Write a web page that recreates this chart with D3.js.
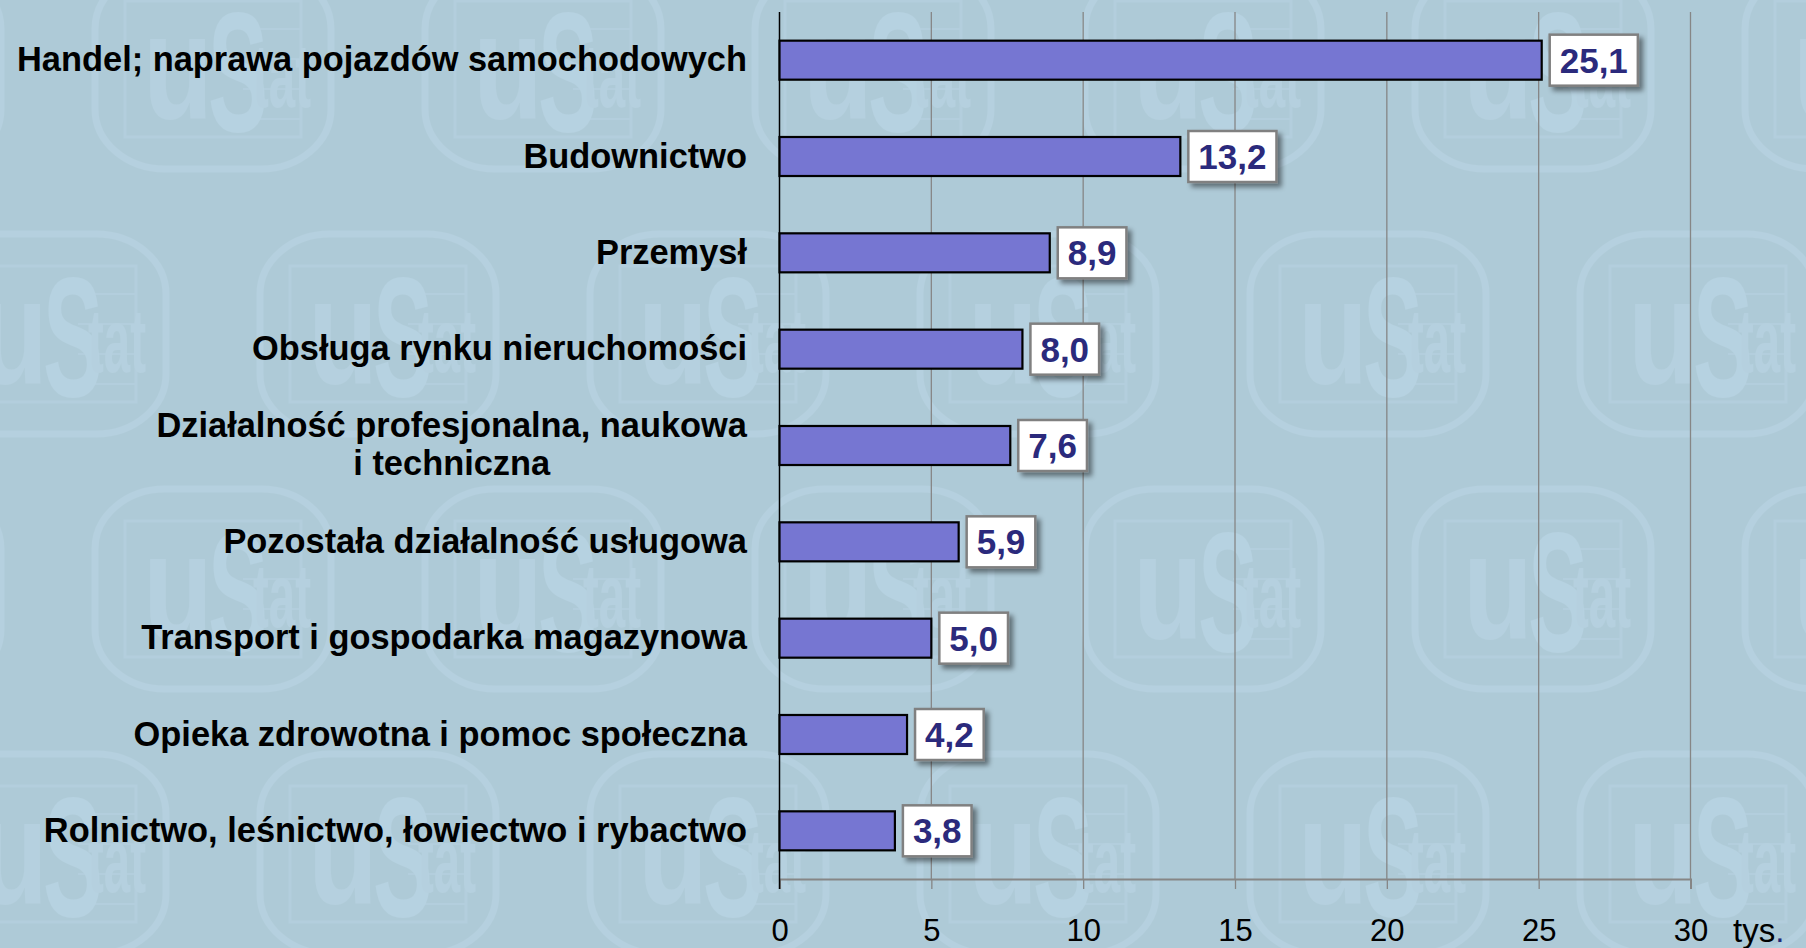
<!DOCTYPE html>
<html>
<head>
<meta charset="utf-8">
<title>Podmioty według sekcji</title>
<script src="https://cdn.jsdelivr.net/npm/d3@7"></script>
<style>
  body { margin: 0; background: #aecad7; }
  svg { display: block; }
  text { font-family: "Liberation Sans", Arial, sans-serif; }
</style>
</head>
<body>
<div id="chart"></div>
<script>
var categories = [
  "Handel; naprawa pojazdów samochodowych",
  "Budownictwo",
  "Przemysł",
  "Obsługa rynku nieruchomości",
  "Działalność profesjonalna, naukowa\ni techniczna",
  "Pozostała działalność usługowa",
  "Transport i gospodarka magazynowa",
  "Opieka zdrowotna i pomoc społeczna",
  "Rolnictwo, leśnictwo, łowiectwo i rybactwo"
];
var values = [25.1, 13.2, 8.9, 8.0, 7.6, 5.9, 5.0, 4.2, 3.8];
var tickValues = [0, 5, 10, 15, 20, 25, 30];
var unitLabel = "tys";

var W = 1806, H = 948;
var plotLeft = 779.5, plotRight = 1690.5, plotTop = 12, plotBottom = 879;

var pl = d3.formatLocale({ decimal: ",", thousands: " ", grouping: [3], currency: ["", " zł"] });
var fmt = pl.format(".1f");

var svg = d3.select("#chart").append("svg")
    .attr("width", W)
    .attr("height", H);

var defs = svg.append("defs");

// drop shadow for value boxes
var shadow = defs.append("filter").attr("id", "shadow")
    .attr("x", "-20%").attr("y", "-20%").attr("width", "150%").attr("height", "160%");
shadow.append("feDropShadow")
    .attr("dx", 4).attr("dy", 4).attr("stdDeviation", 2.5)
    .attr("flood-color", "#000").attr("flood-opacity", 0.45);

// faint "uStat" watermark tile
var pat = defs.append("pattern").attr("id", "wm")
    .attr("patternUnits", "userSpaceOnUse")
    .attr("x", 48).attr("y", 0)
    .attr("width", 330).attr("height", 520);

function logo(g, cx, cy) {
  var l = g.append("g").attr("transform", "translate(" + cx + "," + cy + ")");
  l.append("rect").attr("x", -118).attr("y", -100).attr("width", 236).attr("height", 200)
      .attr("rx", 70).attr("ry", 60)
      .attr("fill", "none").attr("stroke", "#bcd6e6").attr("stroke-width", 7);
  l.append("rect").attr("x", -88).attr("y", -68).attr("width", 176).attr("height", 136)
      .attr("fill", "none").attr("stroke", "#b8d2e2").attr("stroke-width", 3);
  [-40, -10, 20, 50].forEach(function(yy) {
    l.append("line").attr("x1", 30).attr("x2", 88).attr("y1", yy).attr("y2", yy)
        .attr("stroke", "#b8d2e2").attr("stroke-width", 2);
  });
  l.append("text").attr("x", -70).attr("y", 50)
      .attr("font-size", 150).attr("font-weight", "bold")
      .attr("textLength", 70).attr("lengthAdjust", "spacingAndGlyphs")
      .attr("fill", "#bcd6e6").text("u");
  l.append("text").attr("x", -5).attr("y", 62)
      .attr("font-size", 170).attr("font-weight", "bold")
      .attr("textLength", 60).attr("lengthAdjust", "spacingAndGlyphs")
      .attr("fill", "#bed9ea").text("S");
  l.append("text").attr("x", 40).attr("y", 38)
      .attr("font-size", 90).attr("font-weight", "bold")
      .attr("textLength", 58).attr("lengthAdjust", "spacingAndGlyphs")
      .attr("fill", "#bcd6e6").text("tat");
}
[[165, 69], [165, 589], [0, 334], [330, 334], [0, -186], [330, -186]].forEach(function(p) {
  logo(pat, p[0], p[1]);
});

svg.append("rect").attr("width", W).attr("height", H).attr("fill", "#aecad7");
svg.append("rect").attr("width", W).attr("height", H).attr("fill", "url(#wm)").attr("opacity", 0.5);

var x = d3.scaleLinear().domain([0, 30]).range([plotLeft, plotRight]);
var y = d3.scaleBand().domain(categories).range([plotTop, plotBottom])
    .paddingInner(0.595).paddingOuter(0.2975);

// gridlines
svg.append("g").selectAll("line")
    .data(tickValues.filter(function(d) { return d > 0; }))
    .enter().append("line")
    .attr("x1", function(d) { return x(d); })
    .attr("x2", function(d) { return x(d); })
    .attr("y1", plotTop).attr("y2", plotBottom)
    .attr("stroke", "#868686").attr("stroke-width", 1.3);

// x axis
var xAxis = svg.append("g")
    .attr("transform", "translate(0," + plotBottom + ")")
    .call(d3.axisBottom(x).tickValues(tickValues).tickSize(10).tickPadding(30)
        .tickFormat(function(d) { return d; }));
xAxis.select(".domain").attr("stroke", "#868686").attr("stroke-width", 2);
xAxis.selectAll(".tick line").attr("stroke", "#868686").attr("stroke-width", 1.3);
xAxis.selectAll(".tick text")
    .attr("font-size", 31).attr("fill", "#000")
    .attr("font-family", "'Liberation Sans', Arial, sans-serif");

var unit = svg.append("text")
    .attr("x", 1733).attr("y", 942)
    .attr("font-size", 33).attr("fill", "#000");
unit.append("tspan").text(unitLabel);
unit.append("tspan").attr("fill", "#1f2a7a").text(".");

// y axis line
svg.append("line")
    .attr("x1", x(0)).attr("x2", x(0))
    .attr("y1", plotTop).attr("y2", plotBottom + 10)
    .attr("stroke", "#000").attr("stroke-width", 1.5);

// bars
svg.append("g").selectAll("rect")
    .data(values)
    .enter().append("rect")
    .attr("x", x(0))
    .attr("y", function(d, i) { return y(categories[i]); })
    .attr("width", function(d) { return x(d) - x(0); })
    .attr("height", y.bandwidth())
    .attr("fill", "#7676d2")
    .attr("stroke", "#000").attr("stroke-width", 2.2);

// category labels
var labels = svg.append("g").selectAll("text")
    .data(categories)
    .enter().append("text")
    .attr("font-size", 34.4).attr("font-weight", "bold").attr("fill", "#000")
    .attr("text-anchor", "end");

labels.each(function(d) {
  var el = d3.select(this);
  var lines = d.split("\n");
  var cy = y(d) + y.bandwidth() / 2;
  if (lines.length === 1) {
    el.attr("x", 747).attr("y", cy + 11).text(d);
  } else {
    // second line centred under the first
    var t1 = el.append("tspan").attr("x", 747).attr("y", cy - 9).text(lines[0]);
    var w1 = t1.node().getComputedTextLength();
    var t2 = el.append("tspan").text(lines[1]);
    var w2 = t2.node().getComputedTextLength();
    t2.attr("x", 747 - w1 / 2 + w2 / 2).attr("y", cy + 29);
  }
});

// value boxes
var vals = svg.append("g").selectAll("g")
    .data(values)
    .enter().append("g")
    .attr("transform", function(d, i) {
      return "translate(" + (x(d) + 8) + "," + (y(categories[i]) + y.bandwidth() / 2) + ")";
    });

vals.each(function(d) {
  var g = d3.select(this);
  var box = g.append("rect").attr("filter", "url(#shadow)");
  var t = g.append("text")
      .attr("font-size", 35).attr("font-weight", "bold")
      .attr("fill", "#2b2a7c")
      .attr("y", 12.5)
      .text(fmt(d));
  var w = t.node().getComputedTextLength();
  t.attr("x", 10);
  box.attr("x", 0).attr("y", -25.5)
      .attr("width", w + 20).attr("height", 51)
      .attr("fill", "#fff")
      .attr("stroke", "#808080").attr("stroke-width", 2.5);
});
</script>
</body>
</html>
